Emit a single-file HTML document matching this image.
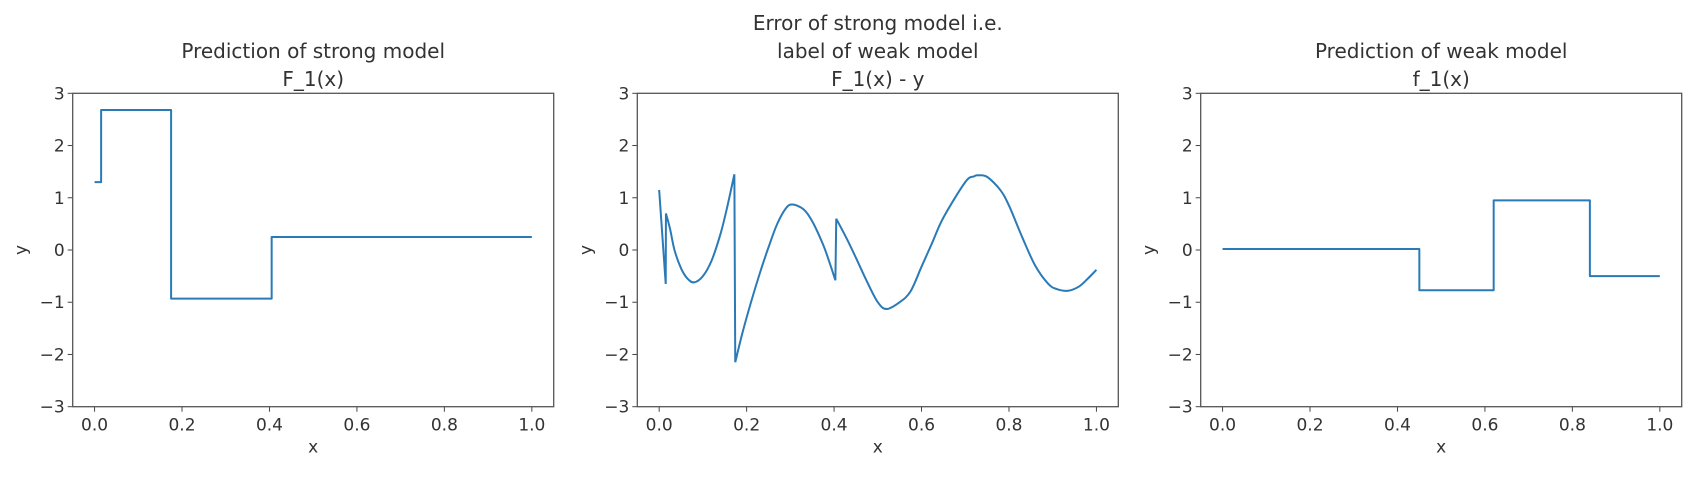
<!DOCTYPE html>
<html><head><meta charset="utf-8"><style>
html,body{margin:0;padding:0;background:#fff;}
svg{display:block;font-family:"DejaVu Sans","Liberation Sans",sans-serif;}
text{fill:#333;}
</style></head><body>
<svg id="chart" width="1708" height="486"></svg>
<script>
// ---- data ----
const strongX = [0, 0.015, 0.175, 0.405, 1.0];
const strongY = [1.3, 2.68, -0.93, 0.25];
const errX = [0, 0.015, 0.0155, 0.025, 0.035, 0.05, 0.065, 0.08, 0.1, 0.12, 0.14, 0.155, 0.172, 0.174, 0.19, 0.21, 0.23, 0.25, 0.27, 0.29, 0.305, 0.33, 0.35, 0.375, 0.39, 0.403, 0.405, 0.43, 0.45, 0.475, 0.5, 0.52, 0.55, 0.575, 0.6, 0.625, 0.65, 0.7, 0.72, 0.73, 0.75, 0.78, 0.8, 0.83, 0.86, 0.89, 0.91, 0.935, 0.96, 0.98, 1.0];
const errY = [1.15, -0.65, 0.7, 0.4, 0.0, -0.35, -0.55, -0.62, -0.5, -0.2, 0.3, 0.8, 1.45, -2.15, -1.6, -1.0, -0.45, 0.05, 0.5, 0.8, 0.87, 0.78, 0.55, 0.1, -0.25, -0.58, 0.6, 0.2, -0.15, -0.6, -1.0, -1.13, -1.0, -0.79, -0.32, 0.15, 0.62, 1.3, 1.41, 1.43, 1.4, 1.15, 0.85, 0.25, -0.3, -0.65, -0.75, -0.78, -0.7, -0.55, -0.38];
const errBreaks = [1, 12, 25];
const weakX = [0, 0.45, 0.62, 0.84, 1.0];
const weakY = [0.02, -0.77, 0.95, -0.5];
const xTicks = [0.0, 0.2, 0.4, 0.6, 0.8, 1.0];
const xTickLabels = ["0.0", "0.2", "0.4", "0.6", "0.8", "1.0"];
const yTicks = [3, 2, 1, 0, -1, -2, -3];
const yTickLabels = ["3", "2", "1", "0", "\u22121", "\u22122", "\u22123"];

const NS = "http://www.w3.org/2000/svg";
const svg = document.getElementById("chart");
const TOP = 93.3, BOT = 406.7, W = 481;
function mk(tag, attrs, parent) {
  const e = document.createElementNS(NS, tag);
  for (const k in attrs) e.setAttribute(k, attrs[k]);
  parent.appendChild(e);
  return e;
}
function stepPath(xs, ys) {
  const pts = [];
  for (let i = 0; i < ys.length; i++) { pts.push([xs[i], ys[i]]); pts.push([xs[i + 1], ys[i]]); }
  return [pts];
}
function errSegments() {
  const segs = [];
  let start = 0;
  const ends = errBreaks.concat([errX.length - 1]);
  ends.forEach(e => {
    const s = [];
    for (let i = start; i <= e; i++) s.push([errX[i], errY[i]]);
    segs.push({pts: s, smooth: true});
    if (e < errX.length - 1) segs.push({pts: [[errX[e], errY[e]], [errX[e + 1], errY[e + 1]]], smooth: false});
    start = e + 1;
  });
  return segs;
}
function panel(left, titleLines, segs, name) {
  const g = mk("g", {}, svg);
  
  
  const sx = v => left + (v + 0.05) / 1.1 * W;
  const sy = v => TOP + (3 - v) / 6 * (BOT - TOP);
  const n = titleLines.length;
  titleLines.forEach((t, i) => {
    const tt = mk("text", {x: left + W / 2, y: 86 - (n - 1 - i) * 28, "text-anchor": "middle", "font-size": 20}, g);
    
    
    tt.textContent = t;
  });
  xTicks.forEach((v, i) => {
    mk("line", {x1: sx(v), x2: sx(v), y1: BOT, y2: BOT + 5, stroke: "#444", "stroke-width": 1}, g);
    const t = mk("text", {x: sx(v), y: BOT + 24, "text-anchor": "middle", "font-size": 17}, g);
    
    
    t.textContent = xTickLabels[i];
  });
  yTicks.forEach((v, i) => {
    mk("line", {x1: left - 5, x2: left, y1: sy(v), y2: sy(v), stroke: "#444", "stroke-width": 1}, g);
    const t = mk("text", {x: left - 8, y: sy(v) + 6, "text-anchor": "end", "font-size": 17}, g);
    
    
    t.textContent = yTickLabels[i];
  });
  const xl = mk("text", {x: left + W / 2, y: BOT + 46, "text-anchor": "middle", "font-size": 17}, g);
  
  
  xl.textContent = "x";
  const yl = mk("text", {x: 0, y: 0, "text-anchor": "middle", "font-size": 17, transform: `translate(${left - 46},${(TOP + BOT) / 2}) rotate(-90)`}, g);
  
  
  yl.textContent = "y";
  let d = "";
  segs.forEach(seg => {
    const p = seg.pts.map(q => [sx(q[0]), sy(q[1])]);
    d += "M" + p[0][0].toFixed(2) + "," + p[0][1].toFixed(2) + " ";
    for (let i = 1; i < p.length; i++) {
      if (seg.smooth && p.length > 2) {
        const p0 = p[Math.max(i - 2, 0)], p1 = p[i - 1], p2 = p[i], p3 = p[Math.min(i + 1, p.length - 1)];
        const c1 = [p1[0] + (p2[0] - p0[0]) / 6, p1[1] + (p2[1] - p0[1]) / 6];
        const c2 = [p2[0] - (p3[0] - p1[0]) / 6, p2[1] - (p3[1] - p1[1]) / 6];
        d += `C${c1[0].toFixed(2)},${c1[1].toFixed(2)} ${c2[0].toFixed(2)},${c2[1].toFixed(2)} ${p2[0].toFixed(2)},${p2[1].toFixed(2)} `;
      } else {
        d += "L" + p[i][0].toFixed(2) + "," + p[i][1].toFixed(2) + " ";
      }
    }
  });
  const ln = mk("path", {d: d, fill: "none", stroke: "#2a7ab8", "stroke-width": 2, "stroke-linejoin": "round"}, g);
  
  
  const fr = mk("rect", {x: left, y: TOP, width: W, height: BOT - TOP, fill: "none", stroke: "#555", "stroke-width": 1.3}, g);
  
  
}
panel(72.7, ["Prediction of strong model", "F_1(x)"], stepPath(strongX, strongY).map(p => ({pts: p, smooth: false})), "strong-model-panel");
panel(637.3, ["Error of strong model i.e.", "label of weak model", "F_1(x) - y"], errSegments(), "error-panel");
panel(1200.7, ["Prediction of weak model", "f_1(x)"], stepPath(weakX, weakY).map(p => ({pts: p, smooth: false})), "weak-model-panel");
</script>
</body></html>
